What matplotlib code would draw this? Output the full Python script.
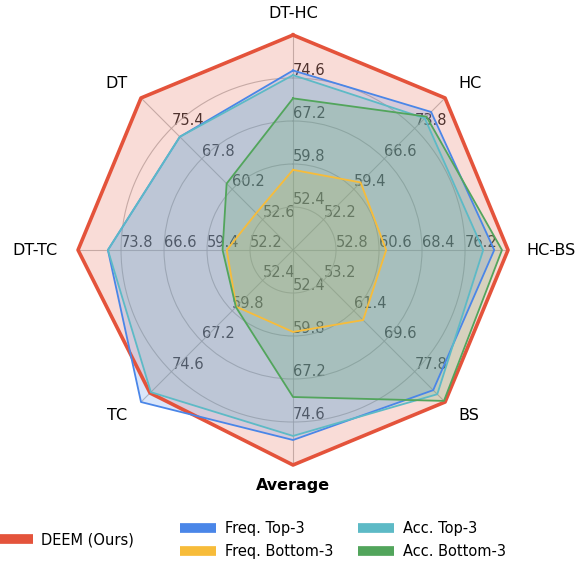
import numpy as np
import matplotlib
matplotlib.use('Agg')
import matplotlib.pyplot as plt
from matplotlib.lines import Line2D

# axes, clockwise from the top
categories = ['DT-HC', 'HC', 'HC-BS', 'BS', 'Average', 'TC', 'DT-TC', 'DT']
axis_min = [45, 45, 45, 45, 45, 45, 45, 45]
axis_max = [82, 81, 84, 86, 82, 82, 81, 83]

deem = [82.0, 81.0, 84.0, 86.0, 82.0, 79.8, 81.0, 83.0]
freq_top = [75.9, 77.7, 81.5, 82.8, 77.7, 82.0, 76.0, 73.3]
freq_bottom = [58.8, 61.0, 61.9, 63.9, 59.1, 58.8, 56.1, 54.2]
acc_top = [75.1, 76.2, 79.5, 83.9, 77.0, 79.6, 76.0, 73.3]
acc_bottom = [71.1, 76.6, 82.9, 85.7, 70.3, 58.9, 56.8, 61.6]

series = [
    ('DEEM (Ours)', deem, '#E4533B', 2.6),
    ('Freq. Top-3', freq_top, '#4A86E8', 1.3),
    ('Freq. Bottom-3', freq_bottom, '#F7BC3A', 1.3),
    ('Acc. Top-3', acc_top, '#5DBAC6', 1.3),
    ('Acc. Bottom-3', acc_bottom, '#52A55C', 1.3),
]

n = len(categories)
angles = np.arange(n) * 2 * np.pi / n
lo = np.array(axis_min, dtype=float)
hi = np.array(axis_max, dtype=float)


def norm(vals):
    return (np.array(vals) - lo) / (hi - lo)


fig = plt.figure(figsize=(5.88, 5.62), dpi=100)
ax = fig.add_axes([0.1327, 0.1726, 0.7313, 0.7651], projection='polar')
ax.set_theta_offset(np.pi / 2)
ax.set_theta_direction(-1)
ax.set_ylim(0, 1)
ax.spines['polar'].set_visible(False)
ax.set_xticks(angles)
ax.set_xticklabels([])
ax.set_yticks([0.2, 0.4, 0.6, 0.8])
ax.set_yticklabels([])
ax.grid(color='#b0b0b0', lw=0.8, alpha=0.8)
ax.set_facecolor('none')

# per-axis tick labels
for i, a in enumerate(angles):
    ticks = np.linspace(lo[i], hi[i], 6)[1:5]
    for k, t in enumerate(ticks):
        ax.text(a, 0.2 * (k + 1), f'{t:.1f}', ha='left', va='bottom',
                fontsize=10.5, color='#2b2b2b', zorder=1)

# category labels
label_r = [1.10, 1.13, 1.20, 1.125, 1.095, 1.125, 1.20, 1.13]
label_shift = [0, 1.7, 0, -1.7, 0, 1.7, 0, -1.7]
for i, a in enumerate(angles):
    ax.text(a + np.deg2rad(label_shift[i]), label_r[i], categories[i],
            ha='center', va='center', fontsize=11.5,
            fontweight='bold' if categories[i] == 'Average' else 'normal',
            clip_on=False)

closed = np.concatenate([angles, angles[:1]])
for z, (name, vals, color, lw) in enumerate(series):
    r = norm(vals)
    r = np.concatenate([r, r[:1]])
    ax.fill(closed, r, color=color, alpha=0.2, zorder=2 + z, lw=0)
    ax.plot(closed, r, color=color, lw=lw, zorder=10 + z, clip_on=False)

h = [Line2D([], [], color=c, lw=7, solid_capstyle='butt') for _, _, c, _ in series]
fig.legend([h[0]], [series[0][0]], loc='center left',
           bbox_to_anchor=(-0.006, 0.039), frameon=False, fontsize=10.5,
           handlelength=2.5, handletextpad=0.55, borderpad=0, borderaxespad=0)
fig.legend([h[1], h[2], h[3], h[4]], [s[0] for s in series[1:]], ncol=2,
           loc='center left', bbox_to_anchor=(0.306, 0.039), frameon=False,
           fontsize=10.5, handlelength=2.5, handletextpad=0.6, columnspacing=1.65,
           borderpad=0, borderaxespad=0, labelspacing=0.5)

fig.savefig('out.png', dpi=100)
